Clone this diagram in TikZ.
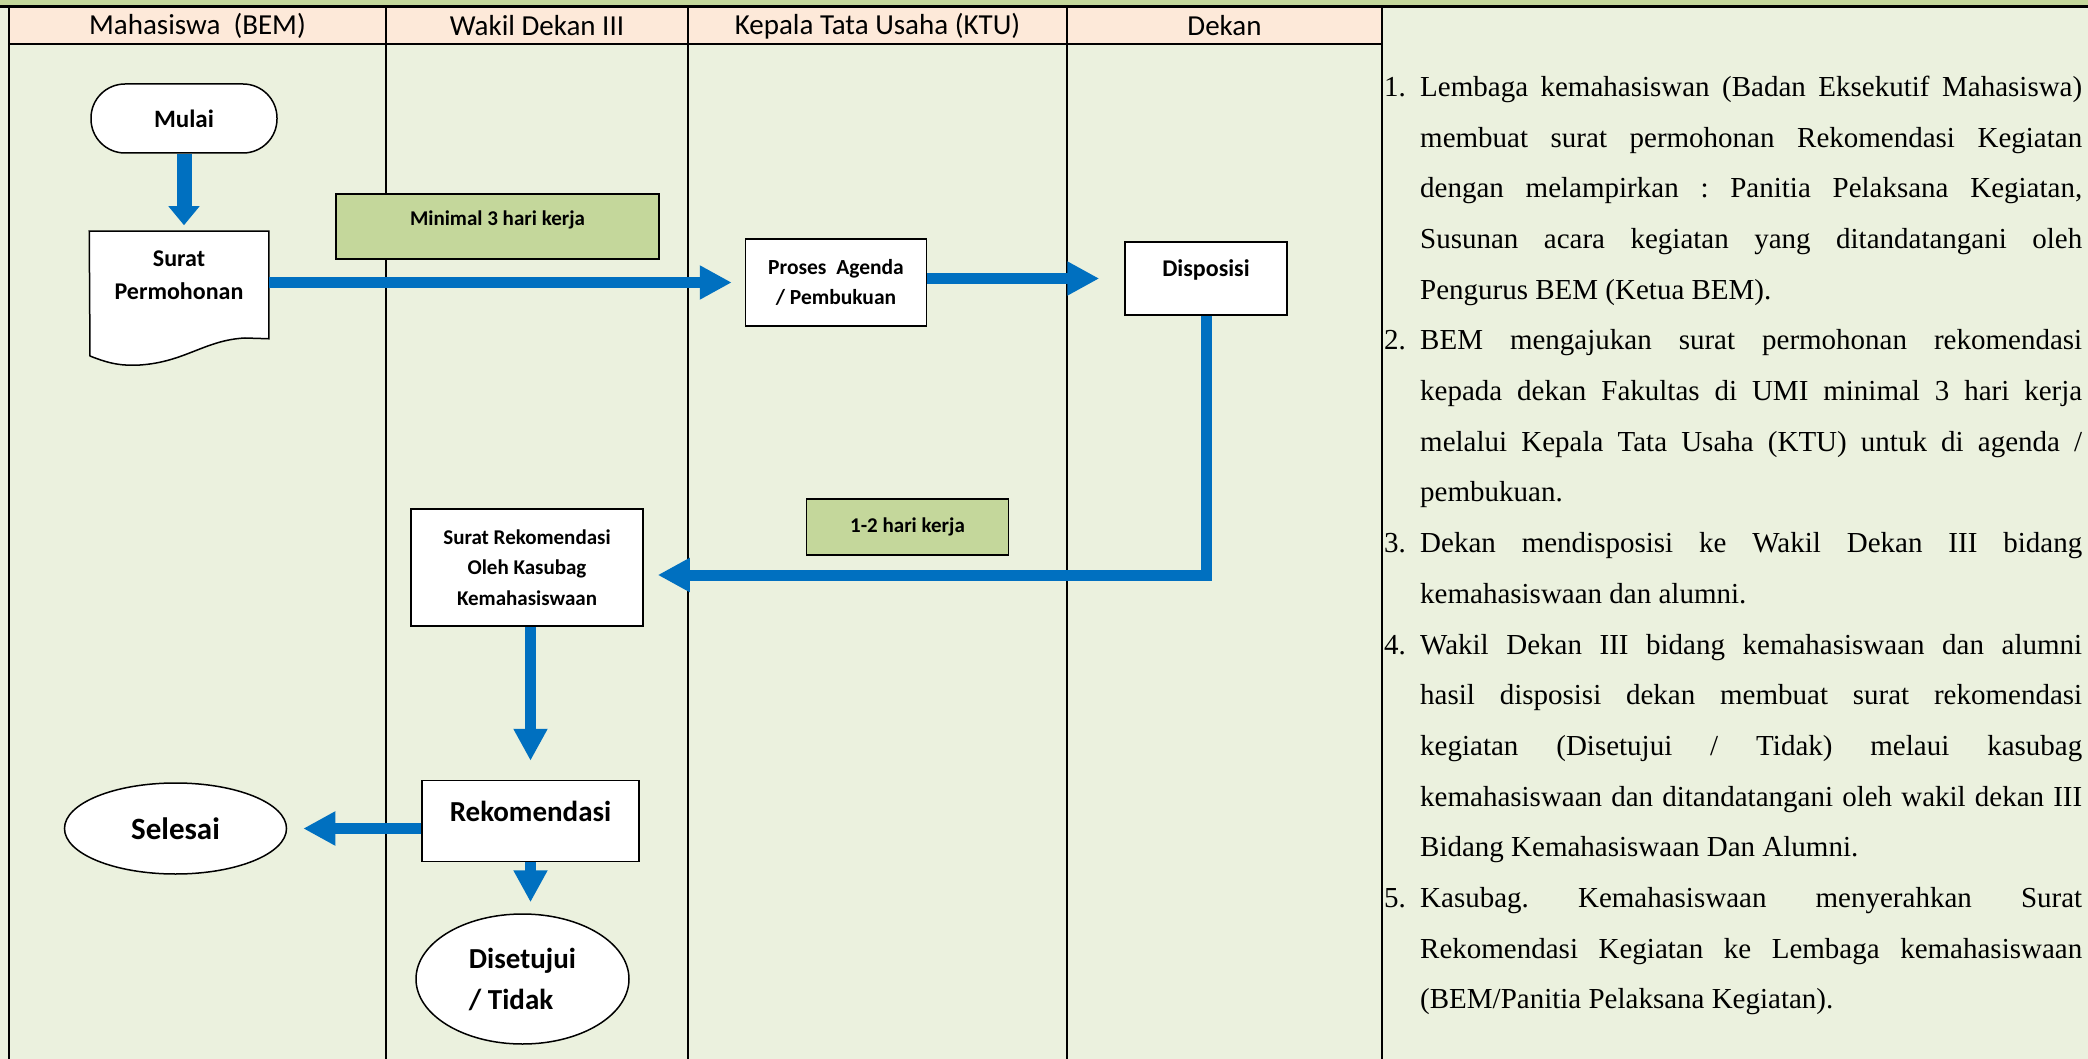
\documentclass[tikz,border=0pt]{standalone}
\usepackage{fontspec}
\setmainfont{Carlito}
\newfontfamily\serifFont{Liberation Serif}
\usepackage{enumitem}
\usetikzlibrary{arrows.meta,shapes.geometric,positioning}
\definecolor{laneColor}{RGB}{235,241,222}
\definecolor{headerColor}{RGB}{253,233,217}
\definecolor{noteColor}{RGB}{196,215,155}
\definecolor{flowColor}{RGB}{0,112,192}
\tikzset{lane/.style={draw=black, line width=1.2pt}}
\tikzset{header/.style={font=\fontsize{29}{35}\selectfont, inner sep=0pt}}
\tikzset{process/.style={draw, fill=white, line width=1.5pt, align=center, inner sep=0pt, font=\bfseries\fontsize{21}{30}\selectfont}}
\tikzset{terminal/.style={process, rounded corners=34pt}}
\tikzset{endpoint/.style={process, ellipse}}
\tikzset{note/.style={process, fill=noteColor}}
\tikzset{flow/.style={draw=flowColor, line width=11pt, -{Triangle[length=32pt, width=32pt]}}}

\begin{document}
\begin{tikzpicture}[x=1pt, y=-1pt]
\pgfdeclarelayer{background}
\pgfsetlayers{background,main}
\useasboundingbox (0,0) rectangle (2088,1059);

% Lanes
\begin{pgfonlayer}{background}
\fill[laneColor] (0,0) rectangle (2088,1059);
\fill[noteColor] (0,0) rectangle (2088,7);
\fill[headerColor] (9,7) rectangle (1382,44);
\draw[lane] (9,44) -- (1382,44);
\foreach \x in {9,386,688,1067} \draw[lane] (\x,7) -- (\x,1059);
\draw[line width=2.5pt] (1382,7) -- (1382,1059);
\draw[line width=3pt] (0,7) -- (2088,7);
\end{pgfonlayer}

\node (HeaderMahasiswa) [header] at (197.5,26) {Mahasiswa\ \ (BEM)};
\node (HeaderWakilDekan) [header] at (537,26) {Wakil Dekan III};
\node (HeaderKTU) [header] at (877.5,26) {Kepala Tata Usaha (KTU)};
\node (HeaderDekan) [header] at (1224.5,26) {Dekan};

% Nodes
\node (Mulai) [terminal, minimum width=186pt, minimum height=69pt, font=\bfseries\fontsize{25}{30}\selectfont] at (184,118.5) {Mulai};

\node (SuratPermohonan) [process, draw=none, fill=none, minimum width=178pt, minimum height=106pt, text depth=20pt, font=\bfseries\fontsize{24}{33}\selectfont] at (179,285) {Surat\\Permohonan};
\begin{pgfonlayer}{background}
\draw[fill=white, line width=1.5pt] (SuratPermohonan.south east) -- (SuratPermohonan.north east) -- (SuratPermohonan.north west) -- (90,356) .. controls (110,364) and (122,366) .. (140,365) .. controls (185,362) and (205,340) .. (245,338) -- cycle;
\end{pgfonlayer}

\node (MinimalHariKerja) [note, minimum width=323pt, minimum height=65pt, text height=15pt, text depth=16pt] at (497.5,226.5) {Minimal 3 hari kerja};

\node (Disposisi) [process, minimum width=162pt, minimum height=73pt, text height=18pt, text depth=22pt, font=\bfseries\fontsize{24}{30}\selectfont] at (1206,278.5) {Disposisi};
\node (ProsesAgenda) [process, minimum width=181pt, minimum height=87pt, font=\bfseries\fontsize{21.5}{30}\selectfont, left=197pt of Disposisi, yshift=-4pt] {Proses\ \ Agenda\\/ Pembukuan};

\node (SatuDuaHariKerja) [note, minimum width=202pt, minimum height=56pt] at (907.5,527) {1-2 hari kerja};

\node (SuratRekomendasi) [process, minimum width=232pt, minimum height=117pt, font=\bfseries\fontsize{21}{30.5}\selectfont] at (527,567.5) {Surat Rekomendasi\\Oleh Kasubag\\Kemahasiswaan};
\node (Rekomendasi) [process, minimum width=217pt, minimum height=81pt, text height=20pt, text depth=20pt, font=\bfseries\fontsize{29}{35}\selectfont, below=153pt of SuratRekomendasi, xshift=3.5pt] {Rekomendasi};
\node (Selesai) [endpoint, minimum width=222pt, minimum height=91pt, font=\bfseries\fontsize{31}{37}\selectfont, left=134pt of Rekomendasi, yshift=-7.5pt] {Selesai};
\node (Disetujui) [endpoint, minimum width=213pt, minimum height=130pt, align=left, font=\bfseries\fontsize{29}{41}\selectfont, below=51pt of Rekomendasi, xshift=-8pt] {Disetujui\\/ Tidak};

\node (Keterangan) [anchor=north west, inner sep=0pt, text width=698pt, align=justify, font=\serifFont\fontsize{29}{50.7}\selectfont] at (1384,45.5) {\hyphenpenalty=10000 \tolerance=10000 \frenchspacing
\begin{enumerate}[leftmargin=36pt, labelwidth=22pt, labelsep=14pt, align=left, itemsep=0pt, topsep=0pt, parsep=0pt, partopsep=0pt]
\item Lembaga kemahasiswan (Badan Eksekutif Mahasiswa) \linebreak membuat surat permohonan Rekomendasi Kegiatan \linebreak dengan melampirkan : Panitia Pelaksana Kegiatan, \linebreak Susunan acara kegiatan yang ditandatangani oleh \linebreak Pengurus BEM (Ketua BEM).
\item BEM mengajukan surat permohonan rekomendasi \linebreak kepada dekan Fakultas di UMI minimal 3 hari kerja \linebreak melalui Kepala Tata Usaha (KTU) untuk di agenda / \linebreak pembukuan.
\item Dekan mendisposisi ke Wakil Dekan III bidang \linebreak kemahasiswaan dan alumni.
\item Wakil Dekan III bidang kemahasiswaan dan alumni \linebreak hasil disposisi dekan membuat surat rekomendasi \linebreak kegiatan (Disetujui / Tidak) melaui kasubag \linebreak kemahasiswaan dan ditandatangani oleh wakil dekan III \linebreak Bidang Kemahasiswaan Dan Alumni.
\item Kasubag. Kemahasiswaan menyerahkan Surat \linebreak Rekomendasi Kegiatan ke Lembaga kemahasiswaan \linebreak (BEM/Panitia Pelaksana Kegiatan).
\end{enumerate}};

% Connectors
\draw [flow, line width=15pt, -{Triangle[length=19pt, width=30pt]}, shorten >=6pt] (Mulai.south) -- (Mulai.south |- SuratPermohonan.north);
\draw [flow, shorten >=13pt] (SuratPermohonan.east |- ProsesAgenda) -- (ProsesAgenda);
\draw [flow, shorten >=25pt] (ProsesAgenda.east |- Disposisi) -- (Disposisi);
\draw [flow, shorten >=14pt] (Disposisi) |- ([yshift=-7.5pt]SuratRekomendasi.east);
\draw [flow, shorten >=19pt] (Rekomendasi |- SuratRekomendasi.south) -- (Rekomendasi);
\draw [flow, shorten >=16pt] (Rekomendasi.west |- Selesai) -- (Selesai);
\draw [flow, shorten >=11pt] (Rekomendasi.south) -- (Rekomendasi.south |- Disetujui.north);

\end{tikzpicture}
\end{document}
